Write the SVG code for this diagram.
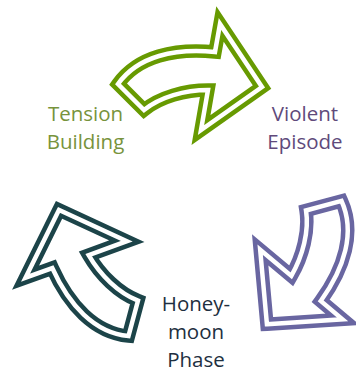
<svg xmlns="http://www.w3.org/2000/svg" width="356" height="371" viewBox="0 0 356 371">
  <style>
    .band { fill: #ffffff; stroke-width: 13.5; stroke-linejoin: miter; stroke-miterlimit: 10; }
    .gap { fill: none; stroke: #ffffff; stroke-width: 4.5; stroke-linejoin: miter; stroke-miterlimit: 10; }
    text { font-family: "Open Sans", "Liberation Sans", sans-serif; font-size: 20.5px; text-anchor: middle; }
    .green { fill: #77933C; }
    .purple { fill: #604A7B; }
    .navy { fill: #1E2F40; }
  </style>
  <defs>
    <!-- curved block arrow, outline runs through the middle of the double line -->
    <path id="cycle-arrow" d="M262,87 L220,24 L215,52 C175,48 138,56 118,84 L144,110 C160,97 185,90 208,90 L201,130 Z"/>
  </defs>

  <g id="connectors">
    <g id="arrow-top">
      <use href="#cycle-arrow" class="band" stroke="#679A01"/>
      <use href="#cycle-arrow" class="gap"/>
    </g>
    <g id="arrow-right" transform="rotate(120 196 207)">
      <use href="#cycle-arrow" class="band" stroke="#6966A1"/>
      <use href="#cycle-arrow" class="gap"/>
    </g>
    <g id="arrow-left" transform="rotate(240 196 207)">
      <use href="#cycle-arrow" class="band" stroke="#1C4449"/>
      <use href="#cycle-arrow" class="gap"/>
    </g>
  </g>

  <g id="node-tension">
    <text class="green" x="85.5" y="120.7">Tension</text>
    <text class="green" x="85.5" y="149.3">Building</text>
  </g>
  <g id="node-violent">
    <text class="purple" x="305" y="120.7">Violent</text>
    <text class="purple" x="305" y="149.3">Episode</text>
  </g>
  <g id="node-honeymoon">
    <text class="navy" x="196" y="311">Honey-</text>
    <text class="navy" x="196" y="339">moon</text>
    <text class="navy" x="196" y="366.5">Phase</text>
  </g>
</svg>
